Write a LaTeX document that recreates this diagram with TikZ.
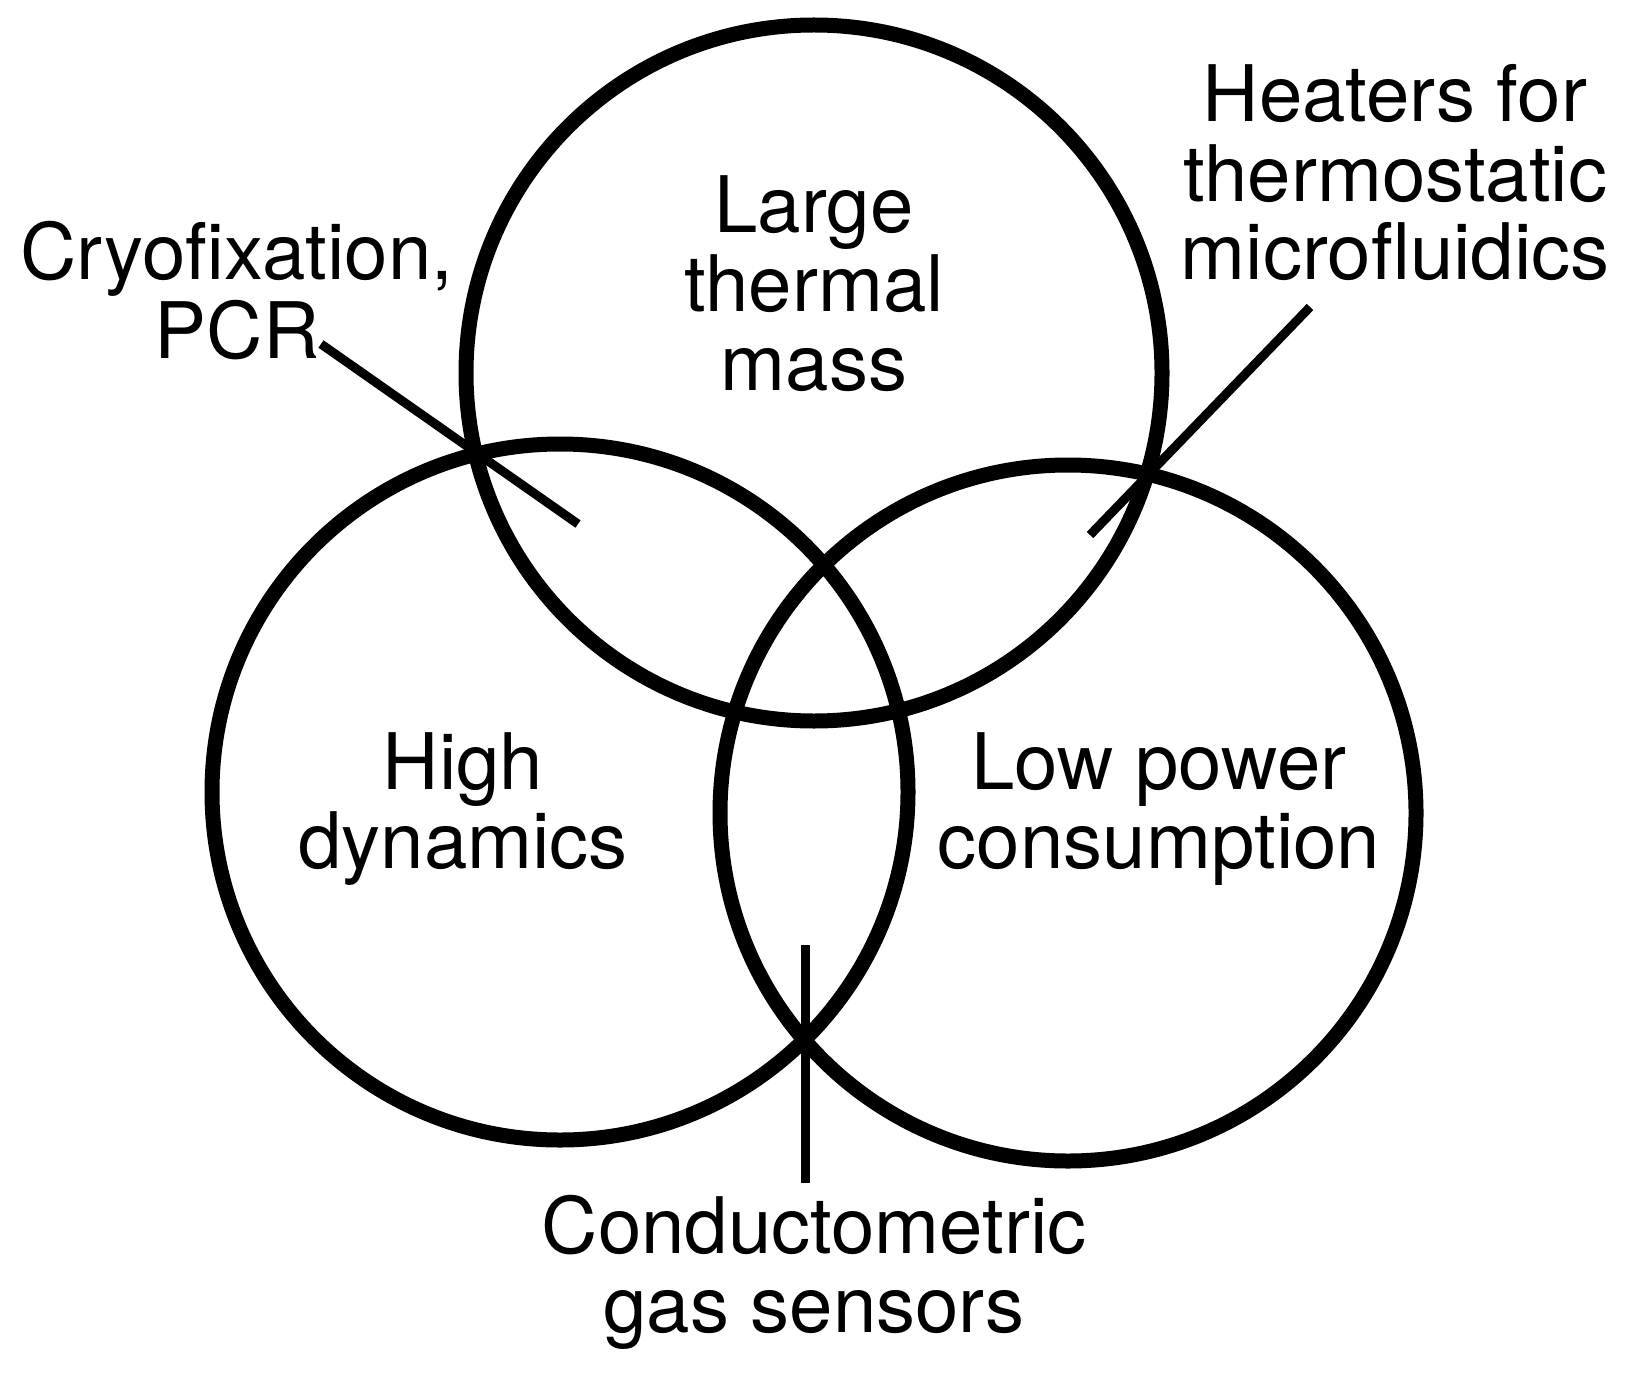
\documentclass[tikz,border=0pt]{standalone}
\usepackage{fontspec}
\setmainfont{TeX Gyre Heros}
\begin{document}
\begin{tikzpicture}[x=0.5pt,y=-0.5pt,
  ring/.style={circle,draw,line width=7.5pt,minimum size=348pt,inner sep=0pt},
  lbl/.style={align=center,font=\fontsize{39}{39.5}\selectfont,inner sep=0pt,anchor=base},
  leader/.style={line width=4.5pt}]
\useasboundingbox (0,0) rectangle (1625,1374);
\node[ring] (top) at (814,373) {};
\node[ring] (left) at (560,792) {};
\node[ring] (right) at (1068,813) {};
\node[lbl] (ltm) at (814,390) {Large\\thermal\\mass};
\node[lbl] (hd) at (463,868) {High\\dynamics};
\node[lbl] (lpc) at (1159,868) {Low power\\consumption};
\node[lbl] (cryo) at (237,358) {Cryofixation,\\PCR};
\node[lbl] (heat) at (1395,280) {Heaters for\\thermostatic\\microfluidics};
\node[lbl] (cond) at (814,1332) {Conductometric\\gas sensors};
\coordinate (c1) at (321,344); \coordinate (c2) at (578,524);
\coordinate (h1) at (1310,307); \coordinate (h2) at (1090,535);
\coordinate (g1) at (805,1183); \coordinate (g2) at (805,945);
\draw[leader] (c1) -- (c2);
\draw[leader] (h1) -- (h2);
\draw[leader] (g1) -- (g2);
\end{tikzpicture}
\end{document}
